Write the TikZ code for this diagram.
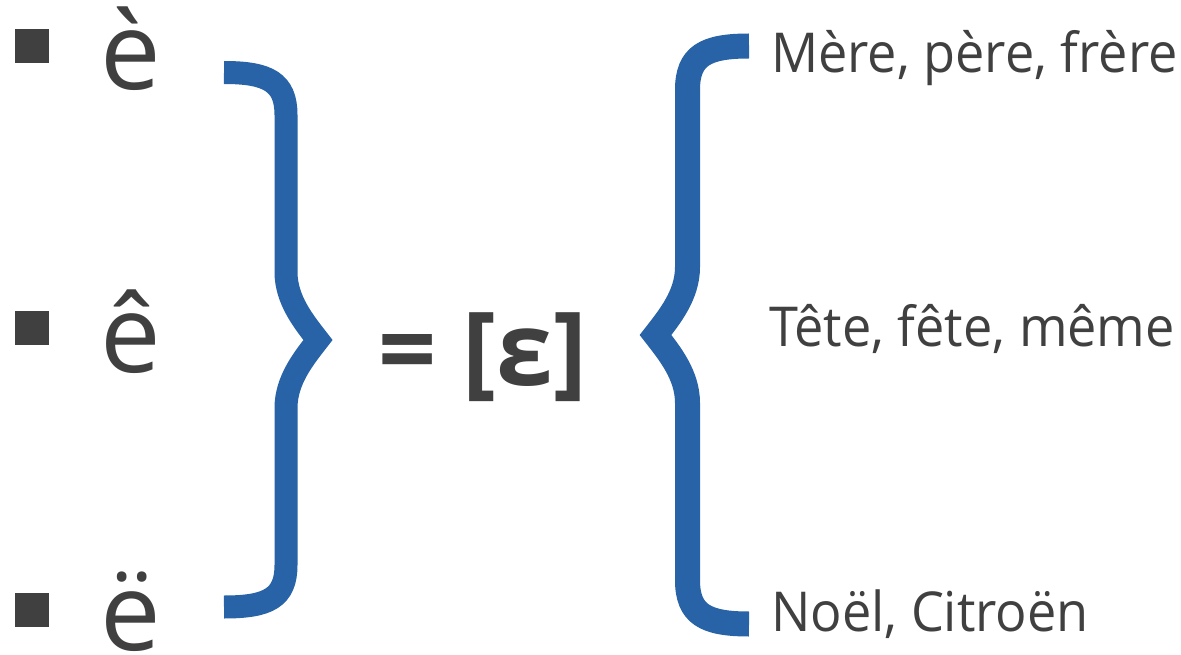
\documentclass[tikz,border=0pt]{standalone}
\usepackage{fontspec}
\setmainfont{Open Sans}
\newfontfamily\wordfont[FakeStretch=0.95]{Open Sans}
\definecolor{braceblue}{HTML}{2763A6}
\definecolor{txtgray}{HTML}{404040}
\tikzset{
  bulletsq/.style={rectangle, fill=txtgray, draw=none, minimum size=34pt, inner sep=0pt},
  bigletter/.style={anchor=base west, inner sep=0pt, text=txtgray, font=\fontsize{108}{130}\selectfont},
  eqtext/.style={anchor=base west, inner sep=0pt, text=txtgray, font=\bfseries\fontsize{102}{122}\selectfont},
  wordtext/.style={anchor=base west, inner sep=0pt, text=txtgray, font=\wordfont\fontsize{55}{66}\selectfont},
  bracestroke/.style={draw=braceblue, line join=miter, line cap=butt, miter limit=10}
}
\begin{document}
\begin{tikzpicture}[x=1pt,y=-1pt]
\useasboundingbox (0,0) rectangle (1181,655);
% bullets
\node[bulletsq] (b1) at (32,46.5) {};
\node[bulletsq] (b2) at (32,328) {};
\node[bulletsq] (b3) at (32,610) {};
% letters
\node[bigletter] (l1) at (100,90) {è};
\node[bigletter] (l2) at (100,372) {ê};
\node[bigletter] (l3) at (100,650) {ë};
% left brace
\draw[bracestroke, line width=23pt]
  (224,72.5) .. controls (268,72.5) and (286,82) .. (286,115)
  -- (286,272) .. controls (286,300) and (304,322) .. (318,340)
  .. controls (304,358) and (286,380) .. (286,408)
  -- (286,565) .. controls (286,598) and (268,607) .. (224,607);
% equation
\node[eqtext] (eq) at (378,385) {= [ε]};
% right brace
\draw[bracestroke, line width=25pt]
  (749,46) .. controls (705,46) and (687.5,56) .. (687.5,90)
  -- (687.5,267) .. controls (687.5,295) and (669.5,317) .. (655.5,335)
  .. controls (669.5,353) and (687.5,375) .. (687.5,403)
  -- (687.5,580) .. controls (687.5,614) and (705,624) .. (749,624);
% words
\node[wordtext] (w1) at (771,73) {Mère, père, frère};
\node[wordtext] (w2) at (769,346) {Tête, fête, même};
\node[wordtext] (w3) at (771,631) {Noël, Citroën};
\end{tikzpicture}
\end{document}
